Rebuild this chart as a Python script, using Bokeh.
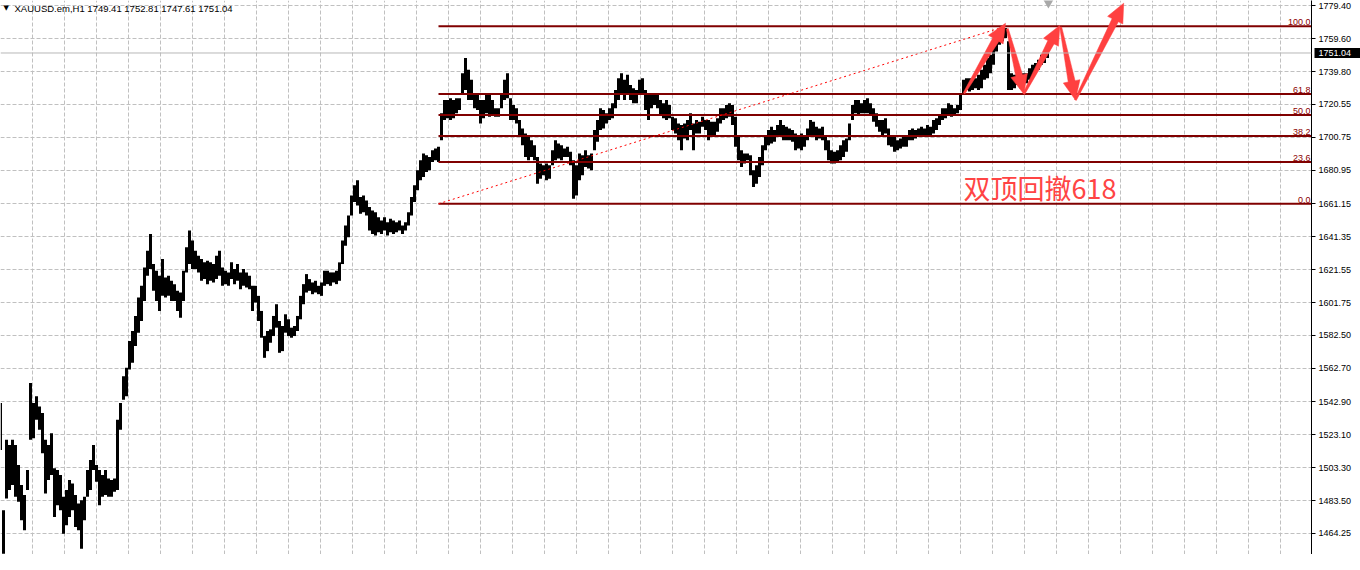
import math
import numpy as np
from bokeh.plotting import figure
from bokeh.models import Range1d, FixedTicker, Span, Label, PrintfTickFormatter
from bokeh.embed import file_html
from bokeh.resources import INLINE

# ---------------- data ----------------
symbol_title = "XAUUSD.em,H1  1749.41 1752.81 1747.61 1751.04"
last_price = 1751.04

price_ticks = [1779.40, 1759.60, 1739.80, 1720.55, 1700.75, 1680.95, 1661.15,
               1641.35, 1621.55, 1601.75, 1582.50, 1562.70, 1542.90, 1523.10,
               1503.30, 1483.50, 1464.25, 1444.45]

# bar highs / lows, one sample per ~3 screen px of the original chart
highs = [1542, 1478, 1520, 1517, 1520, 1517, 1505, 1493, 1487, 1502,
         1554, 1542, 1546, 1540, 1536, 1520, 1517, 1524, 1503, 1502,
         1499, 1486, 1490, 1496, 1494, 1487, 1482, 1484, 1486, 1502,
         1508, 1517, 1505, 1502, 1499, 1502, 1497, 1496, 1497, 1532,
         1542, 1558, 1563, 1579, 1585, 1594, 1605, 1612, 1623, 1633,
         1643, 1625, 1621, 1618, 1628, 1617, 1618, 1615, 1613, 1609,
         1608, 1621, 1635, 1645, 1639, 1633, 1630, 1628, 1626, 1627,
         1626, 1625, 1630, 1633, 1623, 1621, 1620, 1626, 1622, 1625,
         1620, 1622, 1620, 1618, 1612, 1612, 1606, 1597, 1582, 1585,
         1586, 1594, 1601, 1591, 1588, 1595, 1592, 1587, 1588, 1594,
         1606, 1613, 1619, 1616, 1614, 1615, 1612, 1614, 1621, 1621,
         1620, 1620, 1621, 1626, 1639, 1648, 1654, 1666, 1672, 1675,
         1665, 1666, 1663, 1659, 1657, 1656, 1653, 1651, 1653, 1650,
         1652, 1651, 1650, 1651, 1648, 1650, 1656, 1665, 1672, 1681,
         1687, 1691, 1690, 1689, 1693, 1694, 1695, 1715, 1723, 1723,
         1724, 1723, 1724, 1724, 1739, 1748, 1741, 1735, 1727, 1726,
         1723, 1723, 1727, 1726, 1723, 1718, 1718, 1726, 1735, 1739,
         1724, 1720, 1718, 1711, 1706, 1703, 1701, 1699, 1696, 1689,
         1685, 1684, 1685, 1684, 1693, 1699, 1697, 1696, 1694, 1695,
         1692, 1687, 1684, 1691, 1690, 1693, 1690, 1691, 1705, 1711,
         1718, 1717, 1715, 1718, 1721, 1729, 1736, 1739, 1735, 1738,
         1732, 1730, 1729, 1735, 1736, 1729, 1727, 1727, 1726, 1727,
         1723, 1721, 1723, 1720, 1713, 1712, 1709, 1708, 1709, 1711,
         1715, 1709, 1711, 1710, 1713, 1711, 1711, 1710, 1710, 1712,
         1718, 1718, 1720, 1721, 1720, 1713, 1702, 1693, 1691, 1691,
         1690, 1681, 1684, 1689, 1696, 1701, 1705, 1707, 1705, 1708,
         1711, 1708, 1707, 1706, 1705, 1703, 1702, 1703, 1702, 1706,
         1711, 1710, 1707, 1706, 1707, 1702, 1699, 1693, 1692, 1693,
         1696, 1699, 1700, 1709, 1720, 1723, 1723, 1721, 1723, 1724,
         1721, 1718, 1715, 1711, 1711, 1712, 1706, 1702, 1701, 1699,
         1700, 1701, 1702, 1705, 1706, 1705, 1706, 1707, 1706, 1708,
         1707, 1711, 1712, 1714, 1718, 1718, 1721, 1720, 1718, 1720,
         1726, 1735, 1736, 1736, 1735, 1736, 1738, 1741, 1744, 1748,
         1750, 1756, 1761, 1764, 1766, 1766, 1758, 1739, 1738, 1739,
         1738, 1739, 1739, 1742, 1744, 1745, 1747, 1750, 1751, 1752]

lows = [1514, 1452, 1485, 1490, 1493, 1486, 1483, 1472, 1466, 1490,
        1520, 1521, 1532, 1526, 1512, 1488, 1496, 1499, 1474, 1481,
        1478, 1464, 1469, 1474, 1478, 1468, 1466, 1455, 1472, 1486,
        1490, 1502, 1495, 1481, 1486, 1487, 1486, 1486, 1489, 1490,
        1526, 1544, 1546, 1562, 1566, 1576, 1584, 1591, 1603, 1618,
        1622, 1609, 1603, 1597, 1606, 1605, 1606, 1603, 1603, 1597,
        1593, 1603, 1620, 1625, 1622, 1622, 1620, 1615, 1616, 1613,
        1615, 1614, 1616, 1618, 1612, 1613, 1612, 1616, 1613, 1615,
        1610, 1612, 1611, 1610, 1597, 1602, 1591, 1581, 1569, 1573,
        1578, 1582, 1587, 1572, 1573, 1584, 1582, 1581, 1582, 1585,
        1592, 1601, 1608, 1609, 1607, 1608, 1607, 1606, 1612, 1613,
        1612, 1614, 1613, 1615, 1625, 1636, 1641, 1654, 1662, 1660,
        1655, 1656, 1654, 1645, 1643, 1642, 1644, 1643, 1645, 1642,
        1644, 1643, 1644, 1645, 1643, 1645, 1648, 1654, 1662, 1669,
        1675, 1677, 1680, 1681, 1686, 1687, 1686, 1699, 1711, 1712,
        1711, 1712, 1715, 1717, 1726, 1729, 1723, 1723, 1718, 1717,
        1709, 1712, 1715, 1713, 1714, 1713, 1713, 1718, 1723, 1724,
        1711, 1711, 1709, 1701, 1696, 1689, 1687, 1689, 1687, 1673,
        1676, 1678, 1675, 1676, 1684, 1687, 1688, 1687, 1689, 1689,
        1684, 1664, 1666, 1675, 1678, 1683, 1682, 1681, 1693, 1698,
        1705, 1706, 1709, 1711, 1712, 1718, 1723, 1726, 1723, 1727,
        1723, 1721, 1721, 1726, 1727, 1717, 1711, 1718, 1720, 1718,
        1714, 1712, 1711, 1712, 1705, 1703, 1699, 1693, 1700, 1699,
        1705, 1693, 1703, 1703, 1707, 1705, 1699, 1701, 1702, 1704,
        1709, 1711, 1712, 1713, 1708, 1695, 1687, 1683, 1685, 1687,
        1678, 1671, 1673, 1677, 1684, 1693, 1696, 1697, 1698, 1701,
        1702, 1699, 1699, 1699, 1698, 1693, 1694, 1693, 1695, 1699,
        1702, 1701, 1699, 1700, 1699, 1693, 1687, 1685, 1685, 1686,
        1687, 1689, 1692, 1699, 1711, 1715, 1714, 1715, 1715, 1715,
        1714, 1710, 1707, 1704, 1702, 1703, 1696, 1695, 1692, 1693,
        1694, 1695, 1695, 1699, 1699, 1700, 1701, 1701, 1701, 1701,
        1702, 1703, 1705, 1708, 1711, 1712, 1714, 1713, 1714, 1715,
        1717, 1726, 1729, 1728, 1729, 1730, 1729, 1730, 1735, 1736,
        1739, 1744, 1752, 1756, 1758, 1760, 1729, 1729, 1730, 1732,
        1730, 1732, 1733, 1735, 1736, 1739, 1741, 1744, 1745, 1748]

# Fibonacci retracement (anchored from swing low to swing high)
fib_low_bar, fib_low_price = 146, 1661.0
fib_high_bar, fib_high_price = 335, 1767.0
fib_levels = [0.0, 23.6, 38.2, 50.0, 61.8, 100.0]
fib_labels = ["0.0", "23.6", "38.2", "50.0", "61.8", "100.0"]

# hand-drawn arrows: (start bar, start price) -> (end bar, end price)
arrow_from = [(321.2, 1727.0), (335.6, 1765.5), (341.1, 1726.6), (353.4, 1766.5), (358.3, 1723.0)]
arrow_to = [(335.0, 1768.8), (341.1, 1726.6), (353.1, 1767.5), (358.3, 1723.0), (374.4, 1780.8)]

note_text = "双顶回撤618"
note_bar, note_price = 321.0, 1670.5

# chart-shift marker at the top edge
shift_bar, shift_price = 349.3, 1781.0

# ---------------- figure ----------------
PX_PER_BAR = 3.0
FRAME_W, FRAME_H = 1311, 554
PRICE_PER_PX = 0.5972
x_lo, x_hi = 0.0, FRAME_W / PX_PER_BAR
y_hi = 1782.39
y_lo = y_hi - FRAME_H * PRICE_PER_PX

p = figure(frame_width=FRAME_W, frame_height=FRAME_H,
           x_range=Range1d(x_lo, x_hi), y_range=Range1d(y_lo, y_hi),
           y_axis_location="right", output_backend="svg", toolbar_location=None,
           min_border_left=0, min_border_top=0, min_border_bottom=0, min_border_right=41)
p.outline_line_color = None
p.background_fill_color = "white"
p.border_fill_color = "white"

# axes
p.xaxis.visible = False
yax = p.yaxis[0]
yax.ticker = FixedTicker(ticks=price_ticks)
yax.formatter = PrintfTickFormatter(format="%.2f")
yax.major_label_text_font = "Liberation Sans"
yax.major_label_text_font_size = "9px"
yax.major_label_text_color = "black"
yax.major_tick_out = 4
yax.major_tick_in = 0
yax.minor_tick_out = 0
yax.minor_tick_in = 0
yax.major_label_standoff = 3
yax.axis_line_color = "black"
yax.major_tick_line_color = "black"

# grid
p.ygrid.ticker = FixedTicker(ticks=price_ticks)
p.xgrid.ticker = FixedTicker(ticks=list((31.5 + 32 * np.arange(41)) / PX_PER_BAR))
for g in (p.xgrid[0], p.ygrid[0]):
    g.grid_line_color = "#c0c0c0"
    g.grid_line_dash = "4 2"
    g.grid_line_width = 1

# bid line
p.add_layout(Span(location=last_price, dimension="width", line_color="#b8b8b8", line_width=1))

# price bars
bar_index = np.arange(len(highs))
p.vbar(x=bar_index, top=highs, bottom=lows, width=1.0, fill_color="black", line_color=None)

# Fibonacci lines
fib_prices = [fib_low_price + (fib_high_price - fib_low_price) * lv / 100.0 for lv in fib_levels]
p.segment(x0=[fib_low_bar] * len(fib_prices), x1=[x_hi + 5] * len(fib_prices),
          y0=fib_prices, y1=fib_prices, line_color="#800000", line_width=2)
p.line([fib_low_bar, fib_high_bar], [fib_low_price, fib_high_price],
       line_color="#ff0000", line_width=1, line_dash="2 3")
for lab, pr in zip(fib_labels, fib_prices):
    p.add_layout(Label(x=FRAME_W - 1, x_units="screen", y=pr, text=lab,
                       text_align="right", text_baseline="bottom", y_offset=1,
                       text_font="Liberation Sans", text_font_size="9px",
                       text_color="#8b0000"))

# arrows
def arrow_poly(b0, p0, b1, p1, tail=1.0, neck=3.5, head_w=8.5, head_l=19.0):
    x0, y0 = b0 * PX_PER_BAR, p0 / PRICE_PER_PX
    x1, y1 = b1 * PX_PER_BAR, p1 / PRICE_PER_PX
    dx, dy = x1 - x0, y1 - y0
    L = math.hypot(dx, dy)
    ux, uy = dx / L, dy / L
    nx, ny = -uy, ux
    hx, hy = x1 - ux * head_l, y1 - uy * head_l
    pts = [(x0 + nx * tail, y0 + ny * tail), (hx + nx * neck, hy + ny * neck),
           (hx + nx * head_w, hy + ny * head_w), (x1, y1),
           (hx - nx * head_w, hy - ny * head_w), (hx - nx * neck, hy - ny * neck),
           (x0 - nx * tail, y0 - ny * tail)]
    return [q[0] / PX_PER_BAR for q in pts], [q[1] * PRICE_PER_PX for q in pts]

axs, ays = [], []
for (b0, p0), (b1, p1) in zip(arrow_from, arrow_to):
    xs, ys = arrow_poly(b0, p0, b1, p1)
    axs.append(xs)
    ays.append(ys)
p.patches(axs, ays, fill_color="#ff4040", line_color="#ff4040", line_width=0.5)

# shift marker
p.scatter([shift_bar], [shift_price], marker="inverted_triangle", size=10,
          fill_color="#a8a8a8", line_color=None)

# note text
p.add_layout(Label(x=note_bar, y=note_price, text=note_text, text_baseline="middle",
                   text_font="Noto Sans CJK SC", text_font_size="27px", text_color="#ff4444"))

# title
p.add_layout(Label(x=3, x_units="screen", y=FRAME_H - 3, y_units="screen", text="▼",
                   text_baseline="top", text_font="DejaVu Sans", text_font_size="7px",
                   text_color="black"))
p.add_layout(Label(x=14, x_units="screen", y=FRAME_H - 2, y_units="screen", text=symbol_title,
                   text_baseline="top", text_font="Liberation Sans", text_font_size="9.5px",
                   text_color="black"))

# last price tag, placed in the right side panel so it is not clipped to the frame
p.add_layout(Label(x=(FRAME_W + 3) / PX_PER_BAR, y=last_price, text="%.2f" % last_price,
                   text_baseline="middle", text_font="Liberation Sans", text_font_size="9px",
                   text_color="white", background_fill_color="black", padding=[4, 10, 2, 2]),
             "right")

open("out.html", "w").write(file_html(p, INLINE))
